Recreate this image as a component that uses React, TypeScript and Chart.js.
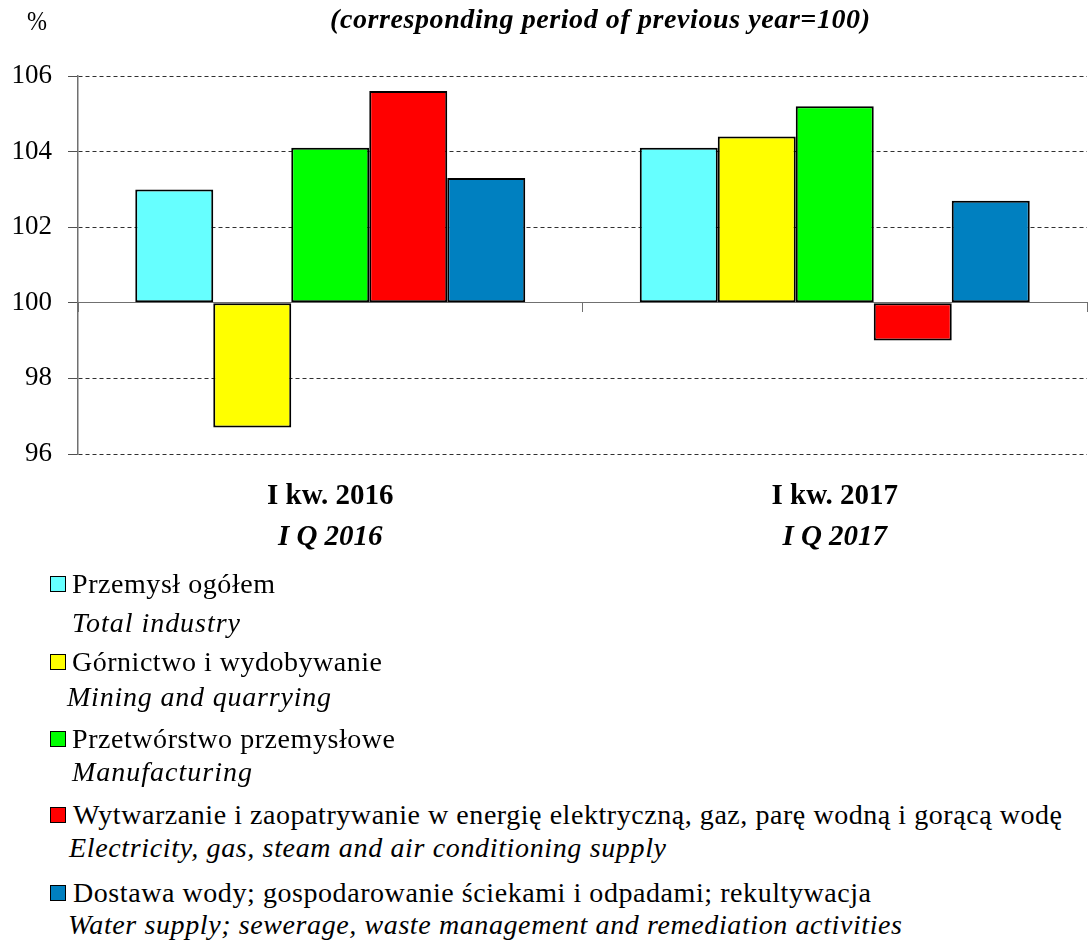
import React, { useEffect, useRef } from 'react';
import { Chart, registerables } from 'chart.js';

Chart.register(...registerables);

const FONT = '"Liberation Serif", "Times New Roman", Times, serif';

// ---- data ----
const categoriesPl = ['I kw. 2016', 'I kw. 2017'];
const categoriesEn = ['I Q 2016', 'I Q 2017'];

const seriesPl = [
  'Przemysł ogółem',
  'Górnictwo i wydobywanie',
  'Przetwórstwo przemysłowe',
  'Wytwarzanie i zaopatrywanie w energię elektryczną, gaz, parę wodną i gorącą wodę',
  'Dostawa wody; gospodarowanie ściekami i odpadami; rekultywacja',
];
const seriesEn = [
  'Total industry',
  'Mining and quarrying',
  'Manufacturing',
  'Electricity, gas, steam and air conditioning supply',
  'Water supply; sewerage, waste management and remediation activities',
];
const seriesColors = ['#66FFFF', '#FFFF00', '#00FF00', '#FF0000', '#0080C0'];

const totalIndustry = [103.0, 104.1];
const miningQuarrying = [96.7, 104.4];
const manufacturing = [104.1, 105.2];
const electricitySupply = [105.6, 99.0];
const waterSupply = [103.3, 102.7];
const seriesValues = [totalIndustry, miningQuarrying, manufacturing, electricitySupply, waterSupply];

const yMin = 96;
const yMax = 106;
const yStep = 2;
const baseValue = 100;

const titleText = '(corresponding period of previous year=100)';
const unitText = '%';

// ---- layout (pixels) ----
const CANVAS_W = 1088;
const CANVAS_H = 570;
const legendLayout = [
  { box: 584, pl: { left: 72, width: 203, cy: 584 }, en: { left: 72, width: 168, cy: 623 } },
  { box: 662, pl: { left: 72, width: 310, cy: 662 }, en: { left: 67, width: 264, cy: 697 } },
  { box: 739, pl: { left: 72, width: 323, cy: 739 }, en: { left: 72, width: 180, cy: 772 } },
  { box: 815, pl: { left: 73, width: 989, cy: 815 }, en: { left: 69, width: 597, cy: 848 } },
  { box: 893, pl: { left: 73, width: 798, cy: 893 }, en: { left: 68, width: 834, cy: 925 } },
];

let mctx: CanvasRenderingContext2D | null = null;
function measure(text: string, font: string): number {
  if (!mctx) mctx = document.createElement('canvas').getContext('2d');
  if (!mctx) return text.length * 10;
  mctx.font = font;
  return mctx.measureText(text).width;
}

function FitText(props: {
  text: string; left: number; cy: number; width: number; size: number;
  weight?: string; fstyle?: string;
}) {
  const { text, left, cy, width, size, weight = 'normal', fstyle = 'normal' } = props;
  const fontStr = `${fstyle === 'normal' ? '' : fstyle + ' '}${weight === 'normal' ? '' : weight + ' '}${size}px ${FONT}`;
  const w = measure(text, fontStr);
  const css: React.CSSProperties = {
    position: 'absolute',
    left,
    top: cy - size / 2,
    fontFamily: FONT,
    fontSize: size,
    fontWeight: weight as any,
    fontStyle: fstyle,
    lineHeight: size + 'px',
    whiteSpace: 'nowrap',
    color: '#000',
    margin: 0,
  };
  if (w < width) {
    css.letterSpacing = (width - w) / Math.max(1, text.length - 1) + 'px';
  } else {
    css.transform = `scaleX(${width / w})`;
    css.transformOrigin = '0 50%';
  }
  return <div style={css}>{text}</div>;
}

const xLabelPlugin = {
  id: 'xLabels',
  afterDraw(chart: any) {
    const ctx = chart.ctx;
    const xs = chart.scales.x;
    const bottom = chart.chartArea.bottom;
    ctx.save();
    ctx.fillStyle = '#000';
    ctx.textAlign = 'center';
    ctx.textBaseline = 'middle';
    categoriesPl.forEach((lab, i) => {
      const x = xs.getPixelForValue(i);
      ctx.font = `bold 29px ${FONT}`;
      ctx.fillText(lab, x, bottom + 43);
      ctx.font = `italic bold 29px ${FONT}`;
      ctx.fillText(categoriesEn[i], x, bottom + 84);
    });
    ctx.restore();
  },
};

function BarChart() {
  const ref = useRef<HTMLCanvasElement | null>(null);
  useEffect(() => {
    if (!ref.current) return;
    const chart = new Chart(ref.current, {
      type: 'bar',
      data: {
        labels: categoriesPl,
        datasets: seriesValues.map((vals, i) => ({
          label: seriesPl[i],
          data: vals,
          base: baseValue,
          backgroundColor: seriesColors[i],
          borderColor: '#000',
          borderWidth: 2,
          borderSkipped: false,
          categoryPercentage: 0.773,
          barPercentage: 1,
        })),
      },
      options: {
        responsive: false,
        animation: false,
        devicePixelRatio: 1,
        layout: { padding: { top: 76, bottom: CANVAS_H - 454, left: 0, right: 1 } },
        plugins: {
          legend: { display: false },
          tooltip: { enabled: false },
          title: { display: false },
        },
        scales: {
          x: {
            type: 'category',
            position: { y: baseValue } as any,
            offset: true,
            grid: {
              offset: true,
              drawOnChartArea: false,
              drawTicks: true,
              tickLength: 9,
              color: '#707070',
              tickColor: '#707070',
              tickBorderDash: [],
            },
            border: { display: true, color: '#707070', width: 1 },
            ticks: { display: false },
          },
          y: {
            min: yMin,
            max: yMax,
            afterFit: (s: any) => { s.width = 78; },
            ticks: {
              stepSize: yStep,
              color: '#000',
              padding: 16,
              font: { family: FONT, size: 27 },
            },
            grid: {
              color: (c: any) => (c.tick && c.tick.value === baseValue ? 'rgba(0,0,0,0)' : '#303030'),
              tickColor: '#505050',
              tickLength: 10,
              tickBorderDash: [],
              lineWidth: 1,
            },
            border: { display: true, color: '#707070', width: 1.5, dash: [4, 3] },
          },
        },
      },
      plugins: [xLabelPlugin],
    });
    return () => chart.destroy();
  }, []);
  return <canvas ref={ref} width={CANVAS_W} height={CANVAS_H} style={{ position: 'absolute', left: 0, top: 0 }} />;
}

export default function App() {
  return (
    <div style={{ position: 'absolute', left: 0, top: 0, width: 1088, height: 941, background: '#fff', overflow: 'hidden' }}>
      <BarChart />
      <FitText text={unitText} left={27} cy={21} width={20} size={27} />
      <FitText text={titleText} left={330} cy={19} width={540} size={28} weight="bold" fstyle="italic" />
      {legendLayout.map((l, i) => (
        <React.Fragment key={i}>
          <div
            style={{
              position: 'absolute',
              left: 50,
              top: l.box - 8,
              width: 16,
              height: 16,
              boxSizing: 'border-box',
              border: '1.5px solid #000',
              background: seriesColors[i],
            }}
          />
          <FitText text={seriesPl[i]} left={l.pl.left} cy={l.pl.cy} width={l.pl.width} size={28} />
          <FitText text={seriesEn[i]} left={l.en.left} cy={l.en.cy} width={l.en.width} size={28} fstyle="italic" />
        </React.Fragment>
      ))}
    </div>
  );
}
